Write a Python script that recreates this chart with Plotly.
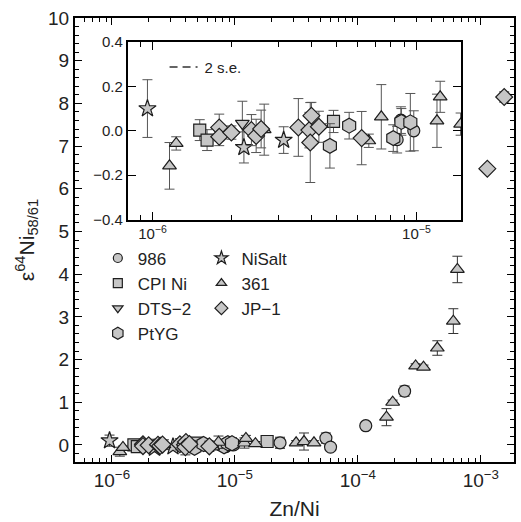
import plotly.graph_objects as go

# ---------------- data (Zn/Ni, epsilon64Ni, 2 s.e.) ----------------
x_986 = [8.45e-6, 8.73e-6, 9.77e-6, 2.33e-5, 5.5e-5, 6.0e-5, 1.16e-4, 2.4e-4]
y_986 = [-0.04, 0.048, 0.0, 0.05, 0.16, -0.05, 0.45, 1.26]
e_986 = [0.06, 0.06, 0.09, 0.13, 0.12, 0.05, 0.03, 0.12]

x_cpi = [1.51e-6, 1.61e-6, 4.85e-6, 1.83e-5]
y_cpi = [0.003, -0.042, 0.042, 0.08]
e_cpi = [0.047, 0.047, 0.05, 0.05]

x_dts = [2.19e-6]
y_dts = [0.033]
e_dts = [0.10]

x_ptyg = [4.7e-6, 5.56e-6, 8.17e-6, 8.77e-6, 9.48e-6]
y_ptyg = [-0.068, 0.023, -0.033, 0.04, 0.038]
e_ptyg = [0.10, 0.06, 0.06, 0.06, 0.13]

x_nisalt = [9.57e-7, 2.22e-6, 3.14e-6]
y_nisalt = [0.10, -0.075, -0.042]
e_nisalt = [0.13, 0.07, 0.06]

x_361 = [1.16e-6, 1.23e-6, 2.65e-6, 6.6e-6, 7.36e-6, 1.196e-5, 1.23e-5, 1.47e-5,
         3.15e-5, 3.65e-5, 4.4e-5, 1.71e-4, 1.92e-4, 2.95e-4, 3.42e-4, 4.43e-4,
         5.98e-4, 6.45e-4]
y_361 = [-0.158, -0.057, 0.005, -0.045, 0.063, 0.045, 0.153, 0.03,
         0.05, 0.08, 0.05, 0.65, 1.0, 1.85, 1.82, 2.27, 2.9, 4.11]
e_361 = [0.105, 0.03, 0.115, 0.03, 0.145, 0.12, 0.07, 0.05,
         0.05, 0.2, 0.05, 0.2, 0.05, 0.05, 0.05, 0.17, 0.29, 0.31]

x_jp1 = [1.79e-6, 1.79e-6, 1.99e-6, 2.37e-6, 2.47e-6, 2.58e-6, 3.57e-6, 3.93e-6,
         4.0e-6, 3.96e-6, 4.27e-6, 6.2e-6, 1.13e-3, 1.55e-3]
y_jp1 = [0.015, -0.027, -0.008, 0.003, -0.023, 0.008, 0.015, 0.003,
         0.068, -0.053, 0.018, -0.033, 6.47, 8.15]
e_jp1 = [0.06, 0.04, 0.03, 0.07, 0.075, 0.085, 0.13, 0.08,
         0.06, 0.18, 0.07, 0.12, 0.05, 0.12]

SE2 = 0.08  # 2 s.e. reproducibility band (inset)

series = [
    ("986", "circle", x_986, y_986, e_986, "legend", 12),
    ("CPI Ni", "square", x_cpi, y_cpi, e_cpi, "legend", 12),
    ("DTS\u22122", "triangle-down", x_dts, y_dts, e_dts, "legend", 12),
    ("PtYG", "hexagon", x_ptyg, y_ptyg, e_ptyg, "legend", 15),
    ("NiSalt", "star", x_nisalt, y_nisalt, e_nisalt, "legend2", 13),
    ("361", "triangle-up", x_361, y_361, e_361, "legend2", 12),
    ("JP\u22121", "diamond", x_jp1, y_jp1, e_jp1, "legend2", 13),
]

# ---------------- styling ----------------
FILL = "#c6c6c6"
EDGE = "#1e1e1e"
FONT = "Liberation Sans, Arial, sans-serif"

fig = go.Figure()

for name, sym, xs, ys, es, lg, sz in series:
    # main panel
    fig.add_trace(go.Scatter(
        x=xs, y=ys, mode="markers", showlegend=False,
        marker=dict(symbol=sym, size=sz, color=FILL, line=dict(color=EDGE, width=1.2)),
        error_y=dict(type="data", array=es, color="#333333", thickness=1, width=5),
        xaxis="x", yaxis="y"))
for name, sym, xs, ys, es, lg, sz in series:
    # inset panel
    fig.add_trace(go.Scatter(
        x=xs, y=ys, mode="markers", showlegend=False,
        marker=dict(symbol=sym, size=sz, color=FILL, line=dict(color=EDGE, width=1.2)),
        error_y=dict(type="data", array=es, color="#555555", thickness=1, width=5),
        xaxis="x2", yaxis="y2"))
for name, sym, xs, ys, es, lg, sz in series:
    # legend samples
    fig.add_trace(go.Scatter(
        x=[None], y=[None], mode="markers", name=name, legend=lg,
        marker=dict(symbol=sym, size=sz - 3, color=FILL, line=dict(color=EDGE, width=1.2)),
        xaxis="x", yaxis="y"))

fig.add_trace(go.Scatter(
    x=[None], y=[None], mode="lines", name="2 s.e.", legend="legend3",
    line=dict(color="#333333", width=1.5, dash="8px,5px,8px,5px,2px,5px"),
    xaxis="x2", yaxis="y2"))

# inset reference lines
fig.add_shape(type="line", xref="x2 domain", x0=0, x1=1, yref="y2", y0=0, y1=0,
              line=dict(color="#222222", width=1.3), layer="below")
for v in (SE2, -SE2):
    fig.add_shape(type="line", xref="x2 domain", x0=0, x1=1, yref="y2", y0=v, y1=v,
                  line=dict(color="#333333", width=1.5, dash="10px,5px"), layer="below")

dec_main = [1e-6, 1e-5, 1e-4, 1e-3]
txt_main = ["10<sup>\u22126</sup>", "10<sup>\u22125</sup>", "10<sup>\u22124</sup>", "10<sup>\u22123</sup>"]
minor_vals = [m * d for d in [1e-7, 1e-6, 1e-5, 1e-4, 1e-3] for m in range(2, 10)]

axis_common = dict(showline=True, linecolor="black", mirror="allticks", ticks="inside",
                   showgrid=False, zeroline=False, tickcolor="black")

fig.update_layout(
    width=521, height=522,
    margin=dict(l=75, r=5, t=18, b=59),
    paper_bgcolor="white", plot_bgcolor="white",
    font=dict(family=FONT, color="#222222"),
    xaxis=dict(type="log", range=[-6.30, -2.73], tickvals=dec_main, ticktext=txt_main,
               ticklen=7, tickwidth=1.3, linewidth=2, tickfont=dict(size=19),
               minor=dict(tickvals=minor_vals, ticks="inside", ticklen=4, tickcolor="black"),
               title=dict(text="Zn/Ni", font=dict(size=21), standoff=12),
               **axis_common),
    yaxis=dict(range=[-0.4, 10.0], dtick=1, ticklen=7, tickwidth=1.3, linewidth=2,
               tickfont=dict(size=19),
               minor=dict(dtick=0.2, ticks="inside", ticklen=4, tickcolor="black"),
               title=dict(text="\u03b5<sup>64</sup>Ni<sub>58/61</sub>", font=dict(size=21), standoff=8),
               **axis_common),
    xaxis2=dict(type="log", range=[-6.094, -4.83], domain=[0.120, 0.880], anchor="y2",
                tickvals=dec_main[:2], ticktext=txt_main[:2], ticklen=8, tickwidth=1.2,
                linewidth=1.8, tickfont=dict(size=15),
                minor=dict(tickvals=minor_vals, ticks="inside", ticklen=5, tickcolor="black"),
                **axis_common),
    yaxis2=dict(range=[-0.4, 0.4], domain=[0.546, 0.946], anchor="x2", dtick=0.2,
                tickformat=".1f", ticklen=8, tickwidth=1.2, linewidth=1.8,
                tickfont=dict(size=15), **axis_common),
    legend=dict(x=0.052, y=0.499, xanchor="left", yanchor="top", bgcolor="rgba(0,0,0,0)",
                font=dict(size=17, family=FONT, color="#222222"), tracegroupgap=0,
                itemwidth=30),
    legend2=dict(x=0.288, y=0.499, xanchor="left", yanchor="top", bgcolor="rgba(0,0,0,0)",
                 font=dict(size=17, family=FONT, color="#222222"), tracegroupgap=0,
                 itemwidth=30),
    legend3=dict(x=0.204, y=0.926, xanchor="left", yanchor="top", bgcolor="rgba(0,0,0,0)",
                 font=dict(size=15, family=FONT, color="#222222"), itemwidth=30),
)

fig.write_html("out.html")
